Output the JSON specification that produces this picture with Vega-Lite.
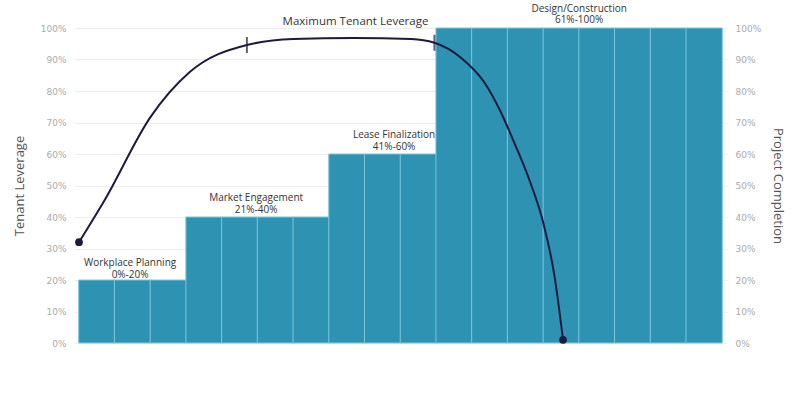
{
"$schema":"https://vega.github.io/schema/vega-lite/v6.json",
"width":653,"height":315,
"autosize":{"type":"none"},
"padding":{"left":74,"top":28,"right":70,"bottom":57},
"background":"white",
"config":{"view":{"stroke":null},"font":"Open Sans"},
"datasets":{
"bars":[{"m":1,"v":20},{"m":2,"v":20},{"m":3,"v":20},{"m":4,"v":40},{"m":5,"v":40},{"m":6,"v":40},{"m":7,"v":40},{"m":8,"v":60},{"m":9,"v":60},{"m":10,"v":60},{"m":11,"v":100},{"m":12,"v":100},{"m":13,"v":100},{"m":14,"v":100},{"m":15,"v":100},{"m":16,"v":100},{"m":17,"v":100},{"m":18,"v":100}],
"curve":[{"m":0.5,"v":32},{"m":1.22,"v":45.4},{"m":2.5,"v":71.7},{"m":3.6,"v":86},{"m":5.2,"v":94.6},{"m":6.5,"v":96.5},{"m":8.2,"v":96.8},{"m":9.8,"v":96.5},{"m":10.45,"v":95.3},{"m":11.2,"v":90.5},{"m":11.83,"v":83},{"m":12.3,"v":73.5},{"m":12.65,"v":64.5},{"m":13.1,"v":52},{"m":13.5,"v":38},{"m":13.8,"v":22},{"m":14.05,"v":1}],
"ends":[{"m":0.5,"v":32},{"m":14.05,"v":1}],
"ticks":[{"m":5.2,"v":94.6},{"m":10.45,"v":95.3}],
"labels":[
{"m":8.24,"v":101.9,"t":"Maximum Tenant Leverage","s":11.5},
{"m":14.5,"v":106,"t":"Design/Construction","s":10},
{"m":14.5,"v":102.5,"t":"61%-100%","s":10},
{"m":9.32,"v":66,"t":"Lease Finalization","s":10},
{"m":9.32,"v":62.2,"t":"41%-60%","s":10},
{"m":5.46,"v":46,"t":"Market Engagement","s":10},
{"m":5.46,"v":42.2,"t":"21%-40%","s":10},
{"m":1.93,"v":25.4,"t":"Workplace Planning","s":10},
{"m":1.93,"v":21.6,"t":"0%-20%","s":10}]
},
"layer":[
{"data":{"name":"bars"},"mark":{"type":"bar","size":36.3,"color":"#2E93B3","stroke":"#7cc6da","strokeWidth":1},
"encoding":{
"x":{"field":"m","type":"quantitative","scale":{"domain":[0.5,18.5],"nice":false,"zero":false},
"axis":{"values":[1,2,3,4,5,6,7,8,9,10,11,12,13,14,15,16,17,18],"labelOverlap":false,"grid":false,"domain":false,"ticks":false,"labelColor":"#999","labelFont":"DejaVu Sans","labelFontSize":9,"labelPadding":6,"title":"Time (Months)","titleFont":"Open Sans","titleFontWeight":"normal","titleFontSize":12,"titleColor":"#555","titlePadding":18}},
"y":{"field":"v","type":"quantitative","scale":{"domain":[0,100],"nice":false},
"axis":{"values":[0,10,20,30,40,50,60,70,80,90,100],"labelExpr":"datum.value + '%'","grid":true,"gridColor":"#eeeeee","domain":false,"ticks":false,"labelColor":"#aaa","labelFont":"DejaVu Sans","labelFontSize":9,"labelPadding":8,"title":"Tenant Leverage","titleFont":"Open Sans","titleFontWeight":"normal","titleFontSize":13,"titleColor":"#555","titlePadding":14}}}},
{"data":{"name":"bars"},"mark":{"type":"point","opacity":0},
"encoding":{"x":{"field":"m","type":"quantitative","axis":null},"y":{"field":"v","type":"quantitative",
"axis":{"orient":"right","values":[0,10,20,30,40,50,60,70,80,90,100],"labelExpr":"datum.value + '%'","grid":false,"domain":false,"ticks":false,"labelColor":"#aaa","labelFont":"DejaVu Sans","labelFontSize":9,"labelPadding":8,"title":"Project Completion","titleFont":"Open Sans","titleFontWeight":"normal","titleFontSize":13,"titleColor":"#555","titlePadding":10}}}},
{"data":{"name":"curve"},"mark":{"type":"line","interpolate":"monotone","color":"#1e1a3e","strokeWidth":2,"clip":false},
"encoding":{"x":{"field":"m","type":"quantitative","axis":null},"y":{"field":"v","type":"quantitative","axis":null}}},
{"data":{"name":"ends"},"mark":{"type":"point","filled":true,"size":60,"color":"#1e1a3e","opacity":1},
"encoding":{"x":{"field":"m","type":"quantitative","axis":null},"y":{"field":"v","type":"quantitative","axis":null}}},
{"data":{"name":"ticks"},"mark":{"type":"tick","orient":"vertical","size":16,"thickness":2,"color":"#1e1a3e"},
"encoding":{"x":{"field":"m","type":"quantitative","axis":null},"y":{"field":"v","type":"quantitative","axis":null}}},
{"data":{"name":"labels"},"mark":{"type":"text","color":"#333","font":"Open Sans","clip":false,"baseline":"middle"},
"encoding":{"x":{"field":"m","type":"quantitative","axis":null},"y":{"field":"v","type":"quantitative","axis":null},"text":{"field":"t"},"size":{"field":"s","type":"quantitative","scale":null}}}
],
"resolve":{"scale":{"y":"shared"},"axis":{"y":"independent"}}
}
